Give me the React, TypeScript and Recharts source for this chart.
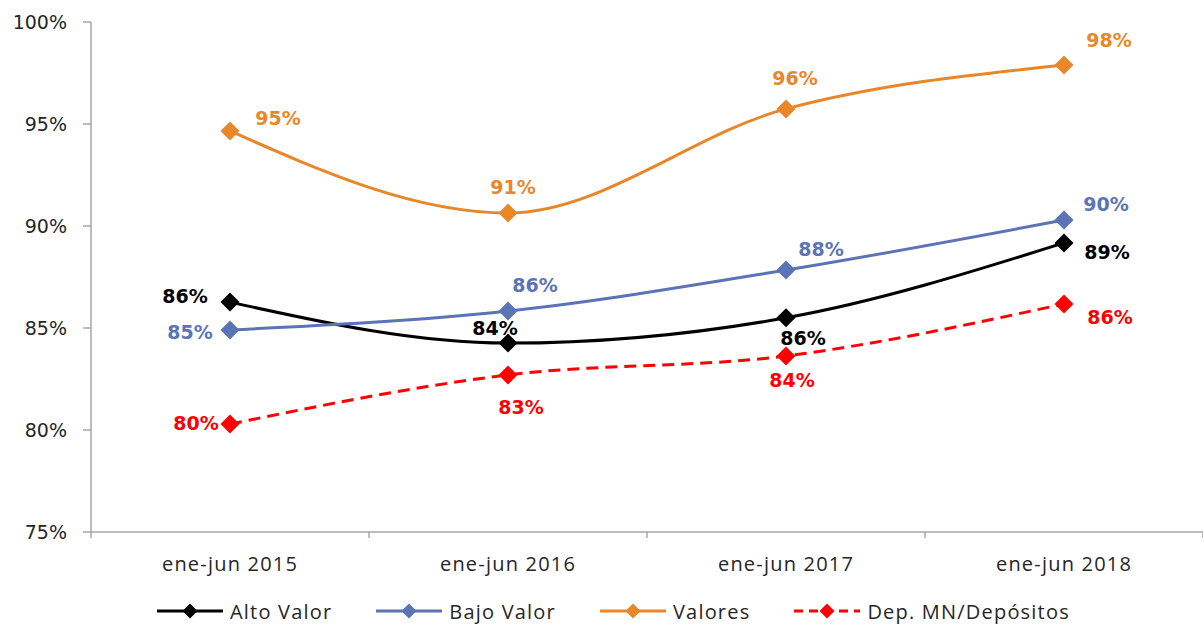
import React from "react";
import { LineChart, Line, XAxis, YAxis, Legend } from "recharts";

const categories = ["ene-jun 2015", "ene-jun 2016", "ene-jun 2017", "ene-jun 2018"];
const altoValor = [86.27, 84.26, 85.5, 89.17];
const bajoValor = [84.9, 85.83, 87.84, 90.29];
const valores = [94.66, 90.64, 95.74, 97.89];
const depMN = [80.29, 82.7, 83.63, 86.18];
const yTicks = [75, 80, 85, 90, 95, 100];

const seriesDefs = [
  { key: "alto", name: "Alto Valor", values: altoValor, color: "#000000", dash: undefined as string | undefined },
  { key: "bajo", name: "Bajo Valor", values: bajoValor, color: "#5B74B6", dash: undefined as string | undefined },
  { key: "valores", name: "Valores", values: valores, color: "#E8872A", dash: undefined as string | undefined },
  { key: "dep", name: "Dep. MN/Depósitos", values: depMN, color: "#FF0000", dash: "12 7" },
];

// label offsets (styling) per series per point: [dx, dy]
const labelOffsets: Record<string, [number, number][]> = {
  alto: [[-45, -6], [-13, -15], [17, 20], [43, 9]],
  bajo: [[-40, 2], [27, -26], [35, -21], [42, -16]],
  valores: [[48, -13], [5, -26], [9, -31], [45, -25]],
  dep: [[-34, -1], [13, 32], [6, 24], [46, 13]],
};

const data = categories.map((c, i) => ({
  name: c,
  alto: altoValor[i],
  bajo: bajoValor[i],
  valores: valores[i],
  dep: depMN[i],
}));

const DiamondDot = (color: string, r: number) => (props: any) => {
  const { cx, cy, index } = props;
  if (cx == null || cy == null) return <g key={index} />;
  return (
    <polygon
      key={index}
      points={`${cx},${cy - r} ${cx + r},${cy} ${cx},${cy + r} ${cx - r},${cy}`}
      fill={color}
      stroke="none"
    />
  );
};

const makeLabel = (key: string, color: string) => (props: any) => {
  const { x, y, value, index } = props;
  const off = labelOffsets[key][index] || [0, 0];
  return (
    <text
      key={index}
      x={x + off[0]}
      y={y + off[1]}
      textAnchor="middle"
      dominantBaseline="central"
      fill={color}
      fontFamily="DejaVu Sans, Verdana, sans-serif"
      fontWeight="bold"
      fontSize={19}
    >
      {`${Math.round(value)}%`}
    </text>
  );
};

const XTick = (props: any) => {
  const { x, y, payload, index, visibleTicksCount } = props;
  const off = payload && payload.offset ? payload.offset : 139;
  const n = visibleTicksCount || categories.length;
  return (
    <g>
      <line x1={x - off} y1={y} x2={x - off} y2={y + 6} stroke="#A6A6A6" strokeWidth={1.5} />
      {index === n - 1 && (
        <line x1={x + off} y1={y} x2={x + off} y2={y + 6} stroke="#A6A6A6" strokeWidth={1.5} />
      )}
      <text
        x={x}
        y={y + 31}
        textAnchor="middle"
        dominantBaseline="central"
        fill="#262626"
        fontFamily="Open Sans, sans-serif"
        fontSize={20}
        letterSpacing={1.2}
      >
        {payload.value}
      </text>
    </g>
  );
};

const YTick = (props: any) => {
  const { x, y, payload } = props;
  return (
    <text
      x={x}
      y={y}
      textAnchor="end"
      dominantBaseline="central"
      fill="#262626"
      fontFamily="DejaVu Sans, Verdana, sans-serif"
      fontSize={19}
    >
      {`${payload.value}%`}
    </text>
  );
};

const LegendContent = () => (
  <div
    style={{
      display: "flex",
      alignItems: "center",
      height: 30,
      marginLeft: 157,
      gap: 44,
      fontFamily: "Open Sans, sans-serif",
      fontSize: 20,
      letterSpacing: 1.2,
      color: "#262626",
    }}
  >
    {seriesDefs.map((s) => (
      <div key={s.key} style={{ display: "flex", alignItems: "center" }}>
        <svg width={66} height={20} style={{ marginRight: 7 }}>
          <line x1={0} y1={10} x2={66} y2={10} stroke={s.color} strokeWidth={3} strokeDasharray={s.dash ? "9 6" : undefined} />
          <polygon points="33,2.5 40.5,10 33,17.5 25.5,10" fill={s.color} />
        </svg>
        <span style={{ whiteSpace: "nowrap" }}>{s.name}</span>
      </div>
    ))}
  </div>
);

export default function App() {
  return (
    <div style={{ position: "absolute", left: 0, top: 0, width: 1203, height: 626, background: "#fff" }}>
      <LineChart width={1203} height={626} data={data} margin={{ top: 22, right: 0, left: 0, bottom: 0 }}>
        <XAxis
          dataKey="name"
          scale="band"
          axisLine={{ stroke: "#A6A6A6", strokeWidth: 1.5 }}
          tickLine={false}
          tickSize={0}
          tickMargin={0}
          height={64}
          tick={<XTick />}
          interval={0}
        />
        <YAxis
          domain={[75, 100]}
          ticks={yTicks}
          width={91}
          axisLine={{ stroke: "#A6A6A6", strokeWidth: 1.5 }}
          tickLine={{ stroke: "#A6A6A6", strokeWidth: 1.5 }}
          tickSize={8}
          tickMargin={16}
          tick={<YTick />}
          allowDataOverflow
        />
        <Legend verticalAlign="bottom" height={30} content={<LegendContent />} />
        {seriesDefs.map((s) => (
          <Line
            key={s.key}
            type="monotone"
            dataKey={s.key}
            name={s.name}
            stroke={s.color}
            strokeWidth={3}
            strokeDasharray={s.dash}
            dot={DiamondDot(s.color, 9.5)}
            activeDot={false}
            label={makeLabel(s.key, s.color)}
            isAnimationActive={false}
          />
        ))}
      </LineChart>
    </div>
  );
}
